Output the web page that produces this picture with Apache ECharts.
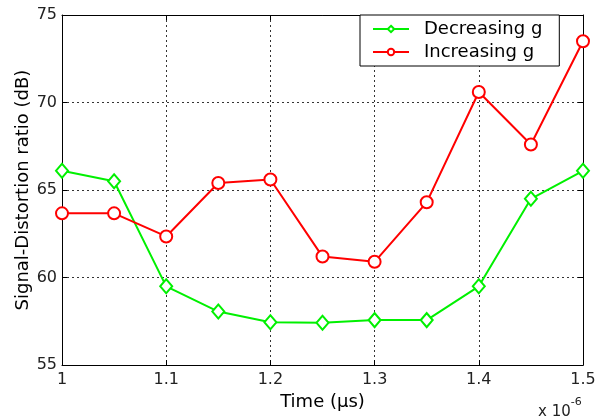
<!DOCTYPE html>
<html>
<head>
<meta charset="utf-8">
<script src="https://cdn.jsdelivr.net/npm/echarts@6/dist/echarts.min.js"></script>
<style>html,body{margin:0;padding:0;background:#fff;}#c{width:599px;height:416px;}</style>
</head>
<body>
<div id="c"></div>
<script>
const times = [1.0, 1.05, 1.1, 1.15, 1.2, 1.25, 1.3, 1.35, 1.4, 1.45, 1.5];
const decreasingG = [66.1, 65.5, 59.5, 58.06, 57.45, 57.42, 57.57, 57.57, 59.5, 64.5, 66.1];
const increasingG = [63.67, 63.67, 62.35, 65.4, 65.6, 61.2, 60.9, 64.3, 70.6, 67.6, 73.5];
const xTicks = [1, 1.1, 1.2, 1.3, 1.4, 1.5];
const yTicks = [55, 60, 65, 70, 75];

const font = '"DejaVu Sans", sans-serif';
const pair = (ys) => times.map((t, i) => [t, ys[i]]);
const fmtX = (v) => { const r = Math.round(v * 10) / 10; return String(r); };

const chart = echarts.init(document.getElementById('c'));
const axisLineStyle = { color: '#000', width: 1 };
chart.setOption({
  animation: false,
  backgroundColor: '#fff',
  grid: { left: 62, right: 16, top: 15, bottom: 48, containLabel: false },
  xAxis: [{
    type: 'value', min: xTicks[0], max: xTicks[xTicks.length - 1], interval: 0.1,
    axisLine: { show: true, onZero: false, lineStyle: axisLineStyle },
    axisTick: { show: true, inside: true, length: 5, lineStyle: axisLineStyle },
    axisLabel: { color: '#222', fontSize: 16, fontFamily: font, margin: 7, formatter: fmtX },
    splitLine: { show: true, lineStyle: { color: '#333', type: [2, 3], width: 1 } },
    name: 'Time (\u03bcs)', nameLocation: 'middle', nameGap: 26,
    nameTextStyle: { color: '#000', fontSize: 18, fontFamily: font }
  }, {
    type: 'value', position: 'top', min: xTicks[0], max: xTicks[xTicks.length - 1], interval: 0.1,
    axisLine: { show: true, onZero: false, lineStyle: axisLineStyle },
    axisTick: { show: true, inside: true, length: 5, lineStyle: axisLineStyle },
    axisLabel: { show: false }, splitLine: { show: false }
  }],
  yAxis: [{
    type: 'value', min: yTicks[0], max: yTicks[yTicks.length - 1], interval: 5,
    axisLine: { show: true, onZero: false, lineStyle: axisLineStyle },
    axisTick: { show: true, inside: true, length: 5, lineStyle: axisLineStyle },
    axisLabel: { color: '#222', fontSize: 16, fontFamily: font, margin: 5 },
    splitLine: { show: true, lineStyle: { color: '#333', type: [2, 3], width: 1 } },
    name: 'Signal-Distortion ratio (dB)', nameLocation: 'middle', nameGap: 30,
    nameMoveOverlap: false,
    nameTextStyle: { color: '#000', fontSize: 18, fontFamily: font }
  }, {
    type: 'value', position: 'right', min: yTicks[0], max: yTicks[yTicks.length - 1], interval: 5,
    axisLine: { show: true, onZero: false, lineStyle: axisLineStyle },
    axisTick: { show: true, inside: true, length: 5, lineStyle: axisLineStyle },
    axisLabel: { show: false }, splitLine: { show: false }
  }],
  legend: {
    left: 360, top: 15, orient: 'vertical',
    backgroundColor: '#fff', borderColor: '#000', borderWidth: 1, borderRadius: 0,
    padding: [5, 17, 5, 12], itemGap: 5, itemWidth: 36, itemHeight: 8,
    textStyle: { color: '#000', fontSize: 18, fontFamily: font, padding: [0, 0, 0, 10] },
    data: ['Decreasing g', 'Increasing g']
  },
  series: [{
    name: 'Decreasing g', type: 'line', data: pair(decreasingG),
    symbol: 'emptyDiamond', symbolSize: [12, 14],
    lineStyle: { color: '#00f000', width: 2 },
    itemStyle: { color: '#00f000', borderColor: '#00f000', borderWidth: 2 }
  }, {
    name: 'Increasing g', type: 'line', data: pair(increasingG),
    symbol: 'emptyCircle', symbolSize: 12,
    lineStyle: { color: '#ff0000', width: 2 },
    itemStyle: { color: '#ff0000', borderColor: '#ff0000', borderWidth: 2 }
  }],
  graphic: [{
    type: 'text', left: 538, top: 397,
    style: {
      text: '{a|x 10}{b|-6}',
      rich: {
        a: { fontSize: 15, fontFamily: font, fill: '#222', verticalAlign: 'bottom', padding: [8, 0, 0, 0] },
        b: { fontSize: 11, fontFamily: font, fill: '#222', verticalAlign: 'top', padding: [0, 0, 10, 0] }
      }
    }
  }]
});
</script>
</body>
</html>
